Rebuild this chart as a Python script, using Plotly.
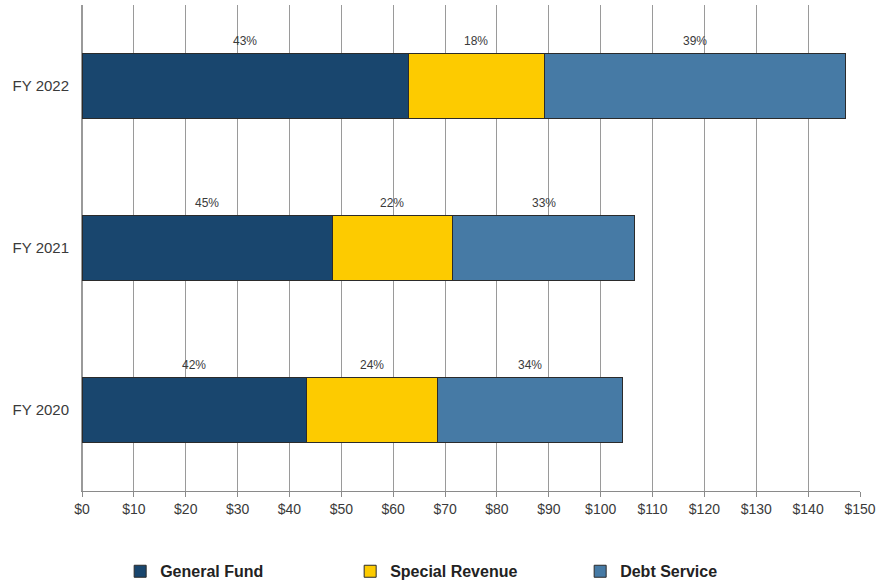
import plotly.graph_objects as go

# Fiscal years, bottom to top
years = ["FY 2020", "FY 2021", "FY 2022"]

# Spending by fund, in millions of dollars
general_fund = [43.3, 48.2, 63.0]
special_revenue = [25.2, 23.2, 26.1]
debt_service = [35.7, 35.2, 58.1]

series = [
    ("General Fund", general_fund, "#19466E"),
    ("Special Revenue", special_revenue, "#FDCB00"),
    ("Debt Service", debt_service, "#467AA5"),
]

x_ticks = list(range(0, 151, 10))
x_tick_labels = [f"${v}" for v in x_ticks]

font_family = "Liberation Sans, Arial, sans-serif"
text_color = "#3a3a3a"
grid_color = "#9a9a9a"

fig = go.Figure()
for name, values, color in series:
    fig.add_trace(go.Bar(
        name=name,
        y=years,
        x=values,
        orientation="h",
        width=0.4,
        marker=dict(color=color, line=dict(color="#2b2b2b", width=1)),
        hoverinfo="x+name",
    ))

# Share-of-total labels above each segment
totals = [sum(vals) for vals in zip(general_fund, special_revenue, debt_service)]
for i, year in enumerate(years):
    start = 0.0
    for name, values, _ in series:
        v = values[i]
        pct = round(v / totals[i] * 100)
        fig.add_annotation(
            x=start + v / 2, y=year, xref="x", yref="y",
            text=f"{pct}%", showarrow=False, yshift=45,
            font=dict(size=12, color=text_color, family=font_family),
        )
        start += v

fig.update_layout(
    barmode="stack",
    width=881,
    height=586,
    margin=dict(l=82, r=19, t=5, b=95),
    paper_bgcolor="white",
    plot_bgcolor="white",
    font=dict(family=font_family, color=text_color, size=14),
    showlegend=True,
    legend=dict(
        orientation="h",
        xref="container", x=0.528, xanchor="center",
        yref="container", y=0.025, yanchor="middle",
        font=dict(size=16, color="#222222", family=font_family, weight="bold"),
        itemwidth=30,
        entrywidth=185,
        traceorder="normal",
    ),
    xaxis=dict(
        range=[0, 150],
        tickmode="array",
        tickvals=x_ticks,
        ticktext=x_tick_labels,
        showgrid=True,
        gridcolor=grid_color,
        gridwidth=1,
        zeroline=True,
        zerolinecolor=grid_color,
        zerolinewidth=1,
        showline=True,
        linecolor="#8a8a8a",
        linewidth=1,
        ticks="outside",
        ticklen=5,
        tickcolor="#8a8a8a",
        tickfont=dict(size=14, color=text_color),
        fixedrange=True,
    ),
    yaxis=dict(
        type="category",
        categoryorder="array",
        categoryarray=years,
        range=[-0.5, 2.5],
        showgrid=False,
        zeroline=False,
        showline=True,
        linecolor=grid_color,
        linewidth=1,
        ticks="",
        ticklabelstandoff=9,
        tickfont=dict(size=15, color=text_color),
        fixedrange=True,
    ),
)

fig.write_html("out.html")
